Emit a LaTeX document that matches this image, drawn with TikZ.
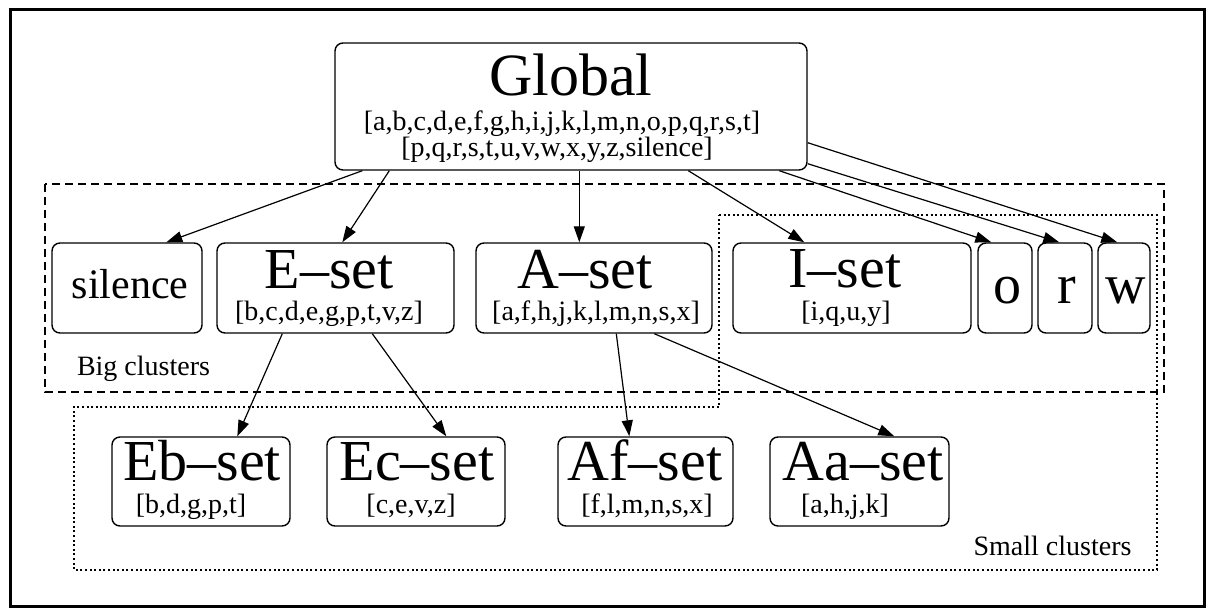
\documentclass[tikz,border=0pt]{standalone}
\usepackage{fontspec}
\setmainfont{Liberation Serif}
\usetikzlibrary{arrows.meta}

\begin{document}
\begin{tikzpicture}[x=1pt,y=-1pt,
  box/.style={draw, line width=1.4pt, rounded corners=8pt, inner sep=0pt},
  txt/.style={anchor=base, inner sep=0pt},
  title/.style={txt, font=\fontsize{58}{58}\selectfont},
  members/.style={txt, font=\fontsize{28}{28}\selectfont},
  letter/.style={txt, font=\fontsize{56}{56}\selectfont},
  link/.style={-{Triangle[length=16pt,width=11pt]}, line width=1.2pt},
  bigregion/.style={line width=1.1pt, dash pattern=on 8pt off 5pt},
  smallregion/.style={line width=1.1pt, dash pattern=on 2pt off 2.6pt},
]
\useasboundingbox (0,0) rectangle (1211,611);

% outer frame
\draw[line width=3pt] (10,9) rectangle (1204,606);

% cluster regions
\draw[bigregion] (45,184) rectangle (1164,392);
\draw[smallregion] (719,215) -- (1157,215) -- (1157,570) -- (74,570)
  -- (74,407) -- (719,407) -- cycle;
\node[members] (bigcap) at (143.5,375) {Big clusters};
\node[members] (smallcap) at (1052.5,555) {Small clusters};

% root
\node[box, minimum width=472pt, minimum height=127pt] (global) at (571,106.5) {};
\node[txt, font=\fontsize{60}{60}\selectfont] (globalname) at (571,95) {Global};
\node[members] (globalA) at (562,130) {[a,b,c,d,e,f,g,h,i,j,k,l,m,n,o,p,q,r,s,t]};
\node[members] (globalB) at (557,156) {[p,q,r,s,t,u,v,w,x,y,z,silence]};

% big clusters
\node[box, minimum width=150pt, minimum height=90pt] (silence) at (127,288) {};
\node[txt, font=\fontsize{42}{42}\selectfont] (silencename) at (130,298) {silence};

\node[box, minimum width=237pt, minimum height=90pt] (eset) at (335.5,288) {};
\node[title] (esetname) at (329,288) {E–set};
\node[members] (esetmem) at (329,320) {[b,c,d,e,g,p,t,v,z]};

\node[box, minimum width=236pt, minimum height=90pt] (aset) at (594,288) {};
\node[title] (asetname) at (585,288) {A–set};
\node[members] (asetmem) at (596,320) {[a,f,h,j,k,l,m,n,s,x]};

\node[box, minimum width=238pt, minimum height=90pt] (iset) at (852,288) {};
\node[title] (isetname) at (845,287) {I–set};
\node[members] (isetmem) at (846,320) {[i,q,u,y]};

\node[box, minimum width=54pt, minimum height=90pt] (o) at (1005,288) {};
\node[letter] (oname) at (1007,303) {o};
\node[box, minimum width=54pt, minimum height=90pt] (r) at (1065,288) {};
\node[letter] (rname) at (1067,303) {r};
\node[box, minimum width=52pt, minimum height=90pt] (w) at (1124,288) {};
\node[letter] (wname) at (1126,303) {w};

% small clusters
\node[box, minimum width=178pt, minimum height=89pt] (eb) at (201,481.5) {};
\node[title] (ebname) at (202,480) {Eb–set};
\node[members] (ebmem) at (191,513) {[b,d,g,p,t]};

\node[box, minimum width=178pt, minimum height=89pt] (ec) at (416,481.5) {};
\node[title] (ecname) at (417,480) {Ec–set};
\node[members] (ecmem) at (411,513) {[c,e,v,z]};

\node[box, minimum width=175pt, minimum height=89pt] (af) at (645.5,481.5) {};
\node[title] (afname) at (645,480) {Af–set};
\node[members] (afmem) at (647,513) {[f,l,m,n,s,x]};

\node[box, minimum width=179pt, minimum height=89pt] (aa) at (859.5,481.5) {};
\node[title] (aaname) at (863,480) {Aa–set};
\node[members] (aamem) at (845,513) {[a,h,j,k]};

% connectors from the root
\draw[link] ([xshift=28pt]global.south west) -- ([xshift=115pt]silence.north west);
\draw[link] ([xshift=55pt]global.south west) -- ([xshift=126pt]eset.north west);
\draw[link] ([xshift=245pt]global.south west) -- ([xshift=104pt]aset.north west);
\draw[link] ([xshift=354pt]global.south west) -- ([xshift=72pt]iset.north west);
\draw[link] ([xshift=445pt]global.south west) -- ([xshift=14pt]o.north west);
\draw[link] ([yshift=7pt]global.south east) -- ([xshift=22pt]r.north west);
\draw[link] ([yshift=28pt]global.south east) -- ([xshift=20pt]w.north west);

% connectors to the small clusters
\draw[link] ([xshift=66pt]eset.south west) -- ([xshift=126pt]eb.north west);
\draw[link] ([xshift=156pt]eset.south west) -- ([xshift=120pt]ec.north west);
\draw[link] ([xshift=141pt]aset.south west) -- ([xshift=72pt]af.north west);
\draw[link] ([xshift=179pt]aset.south west) -- ([xshift=125pt]aa.north west);
\end{tikzpicture}
\end{document}
